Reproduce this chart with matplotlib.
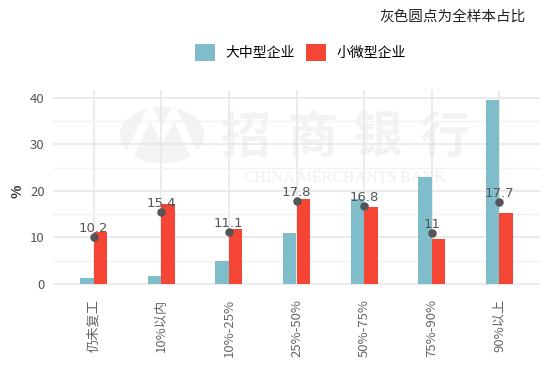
import numpy as np
import matplotlib.pyplot as plt
from matplotlib.patches import Circle, Polygon, Patch

plt.rcParams['font.family'] = ['Noto Sans CJK SC', 'DejaVu Sans']

categories = ['仍未复工', '10%以内', '10%-25%', '25%-50%', '50%-75%', '75%-90%', '90%以上']
large_mid = [1.2, 1.8, 4.9, 10.9, 18.3, 22.9, 39.6]
small_micro = [11.2, 17.1, 11.8, 18.3, 16.5, 9.6, 15.2]
full_sample = [10.2, 15.4, 11.1, 17.8, 16.8, 11, 17.7]
series_names = ['大中型企业', '小微型企业']

blue = '#80bdca'
red = '#f44535'
W, H = 550, 371

fig = plt.figure(figsize=(W / 100, H / 100), dpi=100)
ax = fig.add_axes([53 / W, 1 - 286.3 / H, (540 - 53) / W, (286.3 - 90) / H])
ax.set_facecolor('none')

# watermark (faint logo + name)
wm = '#f3f3f3'
logo = Circle((162 / W, 1 - 135 / H), 42 / W, transform=fig.transFigure,
              facecolor=wm, edgecolor='none', zorder=-2)
fig.add_artist(logo)
m_pts = [(128, 158), (150, 112), (162, 135), (174, 112), (196, 158)]
fig.add_artist(Polygon([(x / W, 1 - y / H) for x, y in m_pts], closed=False,
                       transform=fig.transFigure, fill=False, edgecolor='white',
                       linewidth=6, zorder=-1))
for ch, cx in zip('招商银行', [246, 312, 378, 444]):
    fig.text(cx / W, 1 - 138 / H, ch, fontsize=36, fontweight='bold', color=wm,
             ha='center', va='center', zorder=-1)
fig.text(345 / W, 1 - 177.5 / H, 'CHINA MERCHANTS BANK', family='Liberation Serif',
         fontsize=11.5, color='#f0f0f0', ha='center', va='center', zorder=-1)

x = np.arange(len(categories))
bw = 0.2
ax.bar(x - bw / 2, large_mid, width=bw, color=blue, zorder=2)
ax.bar(x + bw / 2, small_micro, width=bw, color=red, zorder=2)
ax.scatter(x, full_sample, s=26, color='#555555', zorder=4)
for xi, v in zip(x, full_sample):
    ax.annotate(f'{v:g}', (xi, v), xytext=(0, 3.5), textcoords='offset points',
                ha='center', va='baseline', fontsize=9.5, color='#555555',
                family='DejaVu Sans', zorder=5)

ax.set_xlim(-0.6, 6.6)
ax.set_ylim(-0.5, 41.7)
ax.set_yticks([0, 10, 20, 30, 40])
ax.set_yticks([5, 15, 25, 35], minor=True)
ax.set_xticks(x)
ax.set_xticklabels(categories, rotation=90, fontsize=9.5, color='#666666')
ax.tick_params(axis='y', labelsize=9.5, labelcolor='#555555', length=0, pad=6)
ax.tick_params(axis='x', length=0, pad=9)
ax.tick_params(axis='y', which='minor', length=0)
ax.grid(True, which='major', color='#e8e8e8', linewidth=1.2, zorder=0)
ax.grid(True, which='minor', axis='y', color='#f2f2f2', linewidth=1.0, zorder=0)
ax.set_axisbelow(True)
for s in ax.spines.values():
    s.set_visible(False)

fig.text(18 / W, 1 - 191 / H, '%', rotation=90, fontsize=10, fontweight='bold',
         color='#333333', ha='center', va='center')

handles = [Patch(facecolor=blue), Patch(facecolor=red)]
fig.legend(handles, series_names, ncol=2, loc='center', bbox_to_anchor=(300.5 / W, 1 - 52.7 / H),
           frameon=False, fontsize=10, handlelength=1.44, handleheight=1.44,
           handletextpad=0.77, columnspacing=0.8, borderaxespad=0)

fig.text(526 / W, 1 - 17 / H, '灰色圆点为全样本占比', fontsize=10.5, color='#222222',
         ha='right', va='center')

fig.savefig('out.png', dpi=100)
